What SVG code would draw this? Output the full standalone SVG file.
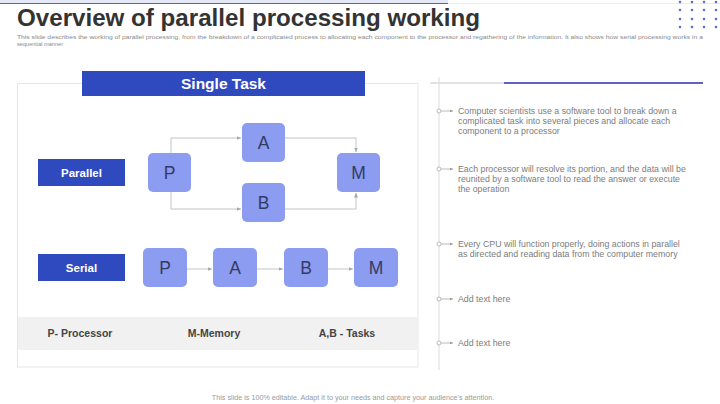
<svg xmlns="http://www.w3.org/2000/svg" width="720" height="404" viewBox="0 0 720 404">
<style>
text{font-family:"Liberation Sans",Arial,sans-serif}
.title{font-size:23.5px;font-weight:bold;fill:#333}
.sub{font-size:5.6px;fill:#8a8a8a}
.box{fill:#8c9cf1}
.lbl{fill:#2f49be}
.let{font-size:17.5px;fill:#353a63;text-anchor:middle}
.lt{font-size:11.5px;font-weight:bold;fill:#fff;text-anchor:middle}
.leg{font-size:10.5px;font-weight:bold;fill:#444;text-anchor:middle}
.conn{fill:none;stroke:#c4c4c4;stroke-width:1}
.bt{font-size:8.8px;fill:#7c7c7c}
.bm{fill:#fff;stroke:#a8a8a8;stroke-width:0.8}
.dot{fill:#5f6fd0}
</style>
<defs>
<marker id="ah" markerWidth="5" markerHeight="5" refX="4.5" refY="2.5" orient="auto" markerUnits="userSpaceOnUse">
<path d="M0,0.5 L4.5,2.5 L0,4.5 Z" fill="#a8a8a8"/>
</marker>
<marker id="bh" markerWidth="4" markerHeight="4" refX="3.5" refY="2" orient="auto" markerUnits="userSpaceOnUse">
<path d="M0,0.5 L3.5,2 L0,3.5 Z" fill="#999"/>
</marker>
</defs>
<rect width="720" height="404" fill="#fff"/>
<!-- header -->
<g id="header">
<rect x="0" y="0" width="448" height="3" fill="#e3e7f6"/>
<line x1="0" y1="3.5" x2="448" y2="3.5" stroke="#5c6a96" stroke-width="1"/>
<line x1="448" y1="3.5" x2="720" y2="3.5" stroke="#ececec" stroke-width="1"/>
<text class="title" x="17" y="26" textLength="463" lengthAdjust="spacingAndGlyphs">Overview of parallel processing working</text>
<text class="sub" x="17" y="39" textLength="686" lengthAdjust="spacingAndGlyphs">This slide describes the working of parallel processing, from the breakdown of a complicated process to allocating each component to the processor and regathering of the information. It also shows how serial processing works in a</text>
<text class="sub" x="17" y="46">sequential manner</text>
</g>
<g id="dots">
<circle class="dot" cx="680" cy="2" r="1.3"/><circle class="dot" cx="692" cy="2" r="1.3"/><circle class="dot" cx="704" cy="2" r="1.3"/><circle class="dot" cx="716" cy="2" r="1.3"/>
<circle class="dot" cx="680" cy="10" r="1.3"/><circle class="dot" cx="692" cy="10" r="1.3"/><circle class="dot" cx="704" cy="10" r="1.3"/><circle class="dot" cx="716" cy="10" r="1.3"/>
<circle class="dot" cx="680" cy="19" r="1.3"/><circle class="dot" cx="692" cy="19" r="1.3"/><circle class="dot" cx="704" cy="19" r="1.3"/><circle class="dot" cx="716" cy="19" r="1.3"/>
<circle class="dot" cx="680" cy="27" r="1.3"/><circle class="dot" cx="692" cy="27" r="1.3"/><circle class="dot" cx="704" cy="27" r="1.3"/><circle class="dot" cx="716" cy="27" r="1.3"/>
</g>
<!-- left panel -->
<g id="panel">
<rect x="17.5" y="83.5" width="400.5" height="283.5" fill="#fff" stroke="#e6e6e6" stroke-width="1"/>
<rect x="18" y="317" width="400" height="33" fill="#f1f1f1"/>
</g>
<g id="banner">
<rect class="lbl" x="82" y="71" width="283" height="25"/>
<text x="223.5" y="88.5" style="font-size:15.5px;font-weight:bold;fill:#fff;text-anchor:middle">Single Task</text>
</g>
<g id="parallel-label">
<rect class="lbl" x="38" y="159" width="87" height="27"/>
<text class="lt" x="81.5" y="176.5">Parallel</text>
</g>
<g id="serial-label">
<rect class="lbl" x="38" y="254" width="87" height="27"/>
<text class="lt" x="81.5" y="271.5">Serial</text>
</g>
<!-- connectors -->
<g id="connectors">
<path class="conn" d="M171,153 V138 H241" marker-end="url(#ah)"/>
<path class="conn" d="M171,192 V209 H241" marker-end="url(#ah)"/>
<path class="conn" d="M285,138 H356 V152" marker-end="url(#ah)"/>
<path class="conn" d="M285,209 H356 V193" marker-end="url(#ah)"/>
<path class="conn" d="M187,269 H212" marker-end="url(#ah)"/>
<path class="conn" d="M257,269 H283" marker-end="url(#ah)"/>
<path class="conn" d="M328,269 H353" marker-end="url(#ah)"/>
</g>
<!-- parallel nodes -->
<g id="par-P"><rect class="box" x="148" y="153" width="43" height="39" rx="5"/><text class="let" x="169.5" y="179">P</text></g>
<g id="par-A"><rect class="box" x="242" y="123" width="43" height="39" rx="5"/><text class="let" x="263.5" y="149">A</text></g>
<g id="par-B"><rect class="box" x="242" y="183" width="43" height="39" rx="5"/><text class="let" x="263.5" y="209">B</text></g>
<g id="par-M"><rect class="box" x="337" y="153" width="43" height="39" rx="5"/><text class="let" x="358.5" y="179">M</text></g>
<!-- serial nodes -->
<g id="ser-P"><rect class="box" x="143" y="248" width="44" height="39" rx="5"/><text class="let" x="165" y="274">P</text></g>
<g id="ser-A"><rect class="box" x="213" y="248" width="44" height="39" rx="5"/><text class="let" x="235" y="274">A</text></g>
<g id="ser-B"><rect class="box" x="284" y="248" width="44" height="39" rx="5"/><text class="let" x="306" y="274">B</text></g>
<g id="ser-M"><rect class="box" x="354" y="248" width="44" height="39" rx="5"/><text class="let" x="376" y="274">M</text></g>
<!-- legend -->
<g id="legend">
<text class="leg" x="80" y="337">P- Processor</text>
<text class="leg" x="214" y="337">M-Memory</text>
<text class="leg" x="347" y="337">A,B - Tasks</text>
</g>
<!-- right timeline -->
<g id="timeline">
<line x1="430" y1="83" x2="504" y2="83" stroke="#d9d9d9" stroke-width="1.5"/>
<line x1="504" y1="83" x2="703" y2="83" stroke="#5d65bd" stroke-width="2"/>
<line x1="439" y1="77" x2="439" y2="370" stroke="#dcdcdc" stroke-width="1"/>
</g>
<g id="bullet-1">
<line x1="441" y1="111" x2="453" y2="111" stroke="#a8a8a8" stroke-width="0.8" marker-end="url(#bh)"/>
<circle class="bm" cx="439" cy="111" r="2"/>
<text class="bt" x="458" y="114">Computer scientists use a software tool to break down a</text>
<text class="bt" x="458" y="124">complicated task into several pieces and allocate each</text>
<text class="bt" x="458" y="134">component to a processor</text>
</g>
<g id="bullet-2">
<line x1="441" y1="169" x2="453" y2="169" stroke="#a8a8a8" stroke-width="0.8" marker-end="url(#bh)"/>
<circle class="bm" cx="439" cy="169" r="2"/>
<text class="bt" x="458" y="172">Each processor will resolve its portion, and the data will be</text>
<text class="bt" x="458" y="182">reunited by a software tool to read the answer or execute</text>
<text class="bt" x="458" y="192">the operation</text>
</g>
<g id="bullet-3">
<line x1="441" y1="244" x2="453" y2="244" stroke="#a8a8a8" stroke-width="0.8" marker-end="url(#bh)"/>
<circle class="bm" cx="439" cy="244" r="2"/>
<text class="bt" x="458" y="247">Every CPU will function properly, doing actions in parallel</text>
<text class="bt" x="458" y="257">as directed and reading data from the computer memory</text>
</g>
<g id="bullet-4">
<line x1="441" y1="299" x2="453" y2="299" stroke="#a8a8a8" stroke-width="0.8" marker-end="url(#bh)"/>
<circle class="bm" cx="439" cy="299" r="2"/>
<text class="bt" x="458" y="302">Add text here</text>
</g>
<g id="bullet-5">
<line x1="441" y1="343" x2="453" y2="343" stroke="#a8a8a8" stroke-width="0.8" marker-end="url(#bh)"/>
<circle class="bm" cx="439" cy="343" r="2"/>
<text class="bt" x="458" y="346">Add text here</text>
</g>
<g id="footer">
<text x="353" y="400" style="font-size:7.2px;fill:#9a9a9a;text-anchor:middle">This slide is 100% editable. Adapt it to your needs and capture your audience's attention.</text>
</g>
</svg>
